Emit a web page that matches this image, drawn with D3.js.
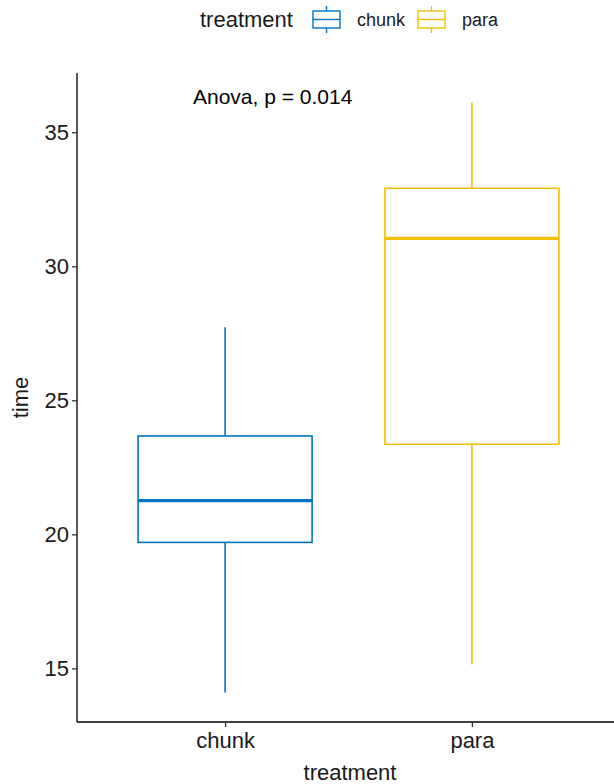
<!DOCTYPE html>
<html><head><meta charset="utf-8">
<script src="https://cdn.jsdelivr.net/npm/d3@7"></script>
<style>body{margin:0;background:#fff}svg{display:block;font-family:"Liberation Sans",Arial,Helvetica,sans-serif}</style>
</head><body><svg id="c" width="614" height="784"></svg>
<script>
const categories = ["chunk", "para"];
const colors = ["#0073C2", "#EFC000"];
const whiskerLow = [14.10, 15.14];
const q1 = [19.70, 23.36];
const median = [21.26, 31.04];
const q3 = [23.67, 32.91];
const whiskerHigh = [27.73, 36.11];
const yTicks = [15, 20, 25, 30, 35];
const statLabel = "Anova, p = 0.014";

const svg = d3.select("#c");
const mLeft = 77, mRight = 620, mTop = 73, mBottom = 722;
const lo = d3.min(whiskerLow), hi = d3.max(whiskerHigh), ex = (hi - lo) * 0.05;
const y = d3.scaleLinear().domain([lo - ex, hi + ex]).range([mBottom, mTop]);
const x = d3.scalePoint().domain(categories).range([mLeft, mRight]).padding(0.6);
const bw = x.step() * 0.705;
const color = d3.scaleOrdinal().domain(categories).range(colors);

// axes
const yAxis = svg.append("g").attr("transform", `translate(${mLeft},0)`)
  .call(d3.axisLeft(y).tickValues(yTicks).tickSize(5).tickPadding(3));
const xAxis = svg.append("g").attr("transform", `translate(0,${mBottom})`)
  .call(d3.axisBottom(x).tickSize(5).tickPadding(5));
[yAxis, xAxis].forEach(g => {
  g.select(".domain").attr("stroke", "#000").attr("stroke-width", 1.3);
  g.selectAll(".tick line").attr("stroke", "#333").attr("stroke-width", 1.3);
  g.selectAll(".tick text").attr("fill", "#1a1a1a").attr("font-size", 22)
    .attr("font-family", '"Liberation Sans",Arial,sans-serif');
});
yAxis.select(".domain").attr("d", `M0,${mBottom}V${mTop}`);
xAxis.select(".domain").attr("d", `M${mLeft},0H${mRight}`);

// titles
svg.append("text").attr("x", 350).attr("y", 780).attr("text-anchor", "middle")
  .attr("font-size", 22).attr("fill", "#1a1a1a").text("treatment");
svg.append("text").attr("transform", `translate(28,${(mTop + mBottom) / 2}) rotate(-90)`)
  .attr("text-anchor", "middle").attr("font-size", 22).attr("fill", "#1a1a1a").text("time");

// boxes
const gb = svg.append("g");
categories.forEach((c, i) => {
  const cx = x(c), col = color(c);
  gb.append("line").attr("x1", cx).attr("x2", cx).attr("y1", y(whiskerHigh[i])).attr("y2", y(q3[i]))
    .attr("stroke", col).attr("stroke-width", 1.6);
  gb.append("line").attr("x1", cx).attr("x2", cx).attr("y1", y(q1[i])).attr("y2", y(whiskerLow[i]))
    .attr("stroke", col).attr("stroke-width", 1.6);
  gb.append("rect").attr("x", cx - bw / 2).attr("width", bw).attr("y", y(q3[i]))
    .attr("height", y(q1[i]) - y(q3[i])).attr("fill", "#fff").attr("stroke", col).attr("stroke-width", 1.6);
  gb.append("line").attr("x1", cx - bw / 2).attr("x2", cx + bw / 2).attr("y1", y(median[i])).attr("y2", y(median[i]))
    .attr("stroke", col).attr("stroke-width", 3.2);
});

// stat label
svg.append("text").attr("x", 193).attr("y", 104).attr("font-size", 21).attr("fill", "#000").text(statLabel);

// legend
const lg = svg.append("g");
lg.append("text").attr("x", 200).attr("y", 27).attr("font-size", 22).attr("fill", "#1a1a1a").text("treatment");
const keyX = [313, 418], labX = [357, 462];
categories.forEach((c, i) => {
  const col = color(c), kx = keyX[i], kw = 27;
  lg.append("line").attr("x1", kx + kw / 2).attr("x2", kx + kw / 2).attr("y1", 6).attr("y2", 33)
    .attr("stroke", col).attr("stroke-width", 1.4);
  lg.append("rect").attr("x", kx).attr("y", 11).attr("width", kw).attr("height", 17)
    .attr("fill", "#fff").attr("stroke", col).attr("stroke-width", 1.4);
  lg.append("line").attr("x1", kx).attr("x2", kx + kw).attr("y1", 19.5).attr("y2", 19.5)
    .attr("stroke", col).attr("stroke-width", 1.4);
  lg.append("text").attr("x", labX[i]).attr("y", 26).attr("font-size", 18).attr("fill", "#1a1a1a").text(c);
});
</script></body></html>
